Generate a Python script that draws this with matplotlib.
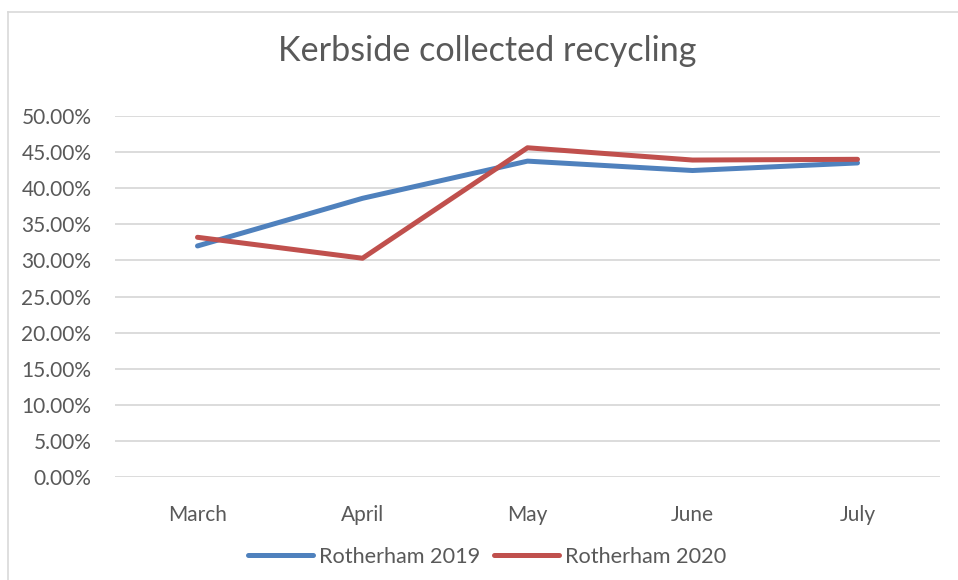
import matplotlib
matplotlib.use("Agg")
import matplotlib.pyplot as plt
from matplotlib.lines import Line2D
from matplotlib.ticker import PercentFormatter

months = ["March", "April", "May", "June", "July"]
rotherham_2019 = [0.320, 0.386, 0.4375, 0.4245, 0.435]
rotherham_2020 = [0.332, 0.303, 0.456, 0.439, 0.440]
y_ticks = [0.0, 0.05, 0.10, 0.15, 0.20, 0.25, 0.30, 0.35, 0.40, 0.45, 0.50]

plt.rcParams['font.family'] = ['Lato', 'DejaVu Sans']
TXT = '#595959'
W, H = 958, 580
fig = plt.figure(figsize=(W / 100, H / 100), dpi=100)
fig.patch.set_facecolor('white')

# chart border (top and left visible)
fig.add_artist(Line2D([8 / W, 1.0], [1 - 12 / H, 1 - 12 / H], color='#D9D9D9', lw=1.2))
fig.add_artist(Line2D([8 / W, 8 / W], [0, 1 - 12 / H], color='#D9D9D9', lw=1.2))

ax = fig.add_axes([115 / W, 1 - 477 / H, (940 - 115) / W, (477 - 116) / H])
x = list(range(len(months)))
ax.plot(x, rotherham_2019, color='#4F81BD', lw=3.6, solid_capstyle='round',
        solid_joinstyle='round', label='Rotherham 2019', zorder=3)
ax.plot(x, rotherham_2020, color='#C0504D', lw=3.6, solid_capstyle='round',
        solid_joinstyle='round', label='Rotherham 2020', zorder=3)

ax.set_xlim(-0.5, len(months) - 0.5)
ax.set_ylim(0, 0.5)
ax.set_yticks(y_ticks)
ax.yaxis.set_major_formatter(PercentFormatter(1.0, decimals=2))
ax.set_xticks(x)
ax.set_xticklabels(months)
ax.grid(axis='y', color='#D9D9D9', lw=1.3)
ax.set_axisbelow(True)
for s in ax.spines.values():
    s.set_visible(False)
ax.tick_params(axis='both', length=0, colors=TXT, labelsize=15)
ax.tick_params(axis='y', pad=17)
ax.tick_params(axis='x', pad=20)

fig.text(487 / W, 1 - 51 / H, "Kerbside collected recycling", ha='center', va='center',
         fontsize=24.6, color=TXT)

fig.legend(loc='center', bbox_to_anchor=(487 / W, 1 - 557 / H), ncol=2, frameon=False,
           fontsize=15.6, labelcolor=TXT, handlelength=3.0, handletextpad=0.3,
           columnspacing=0.6)

fig.savefig("out.png", dpi=100)
